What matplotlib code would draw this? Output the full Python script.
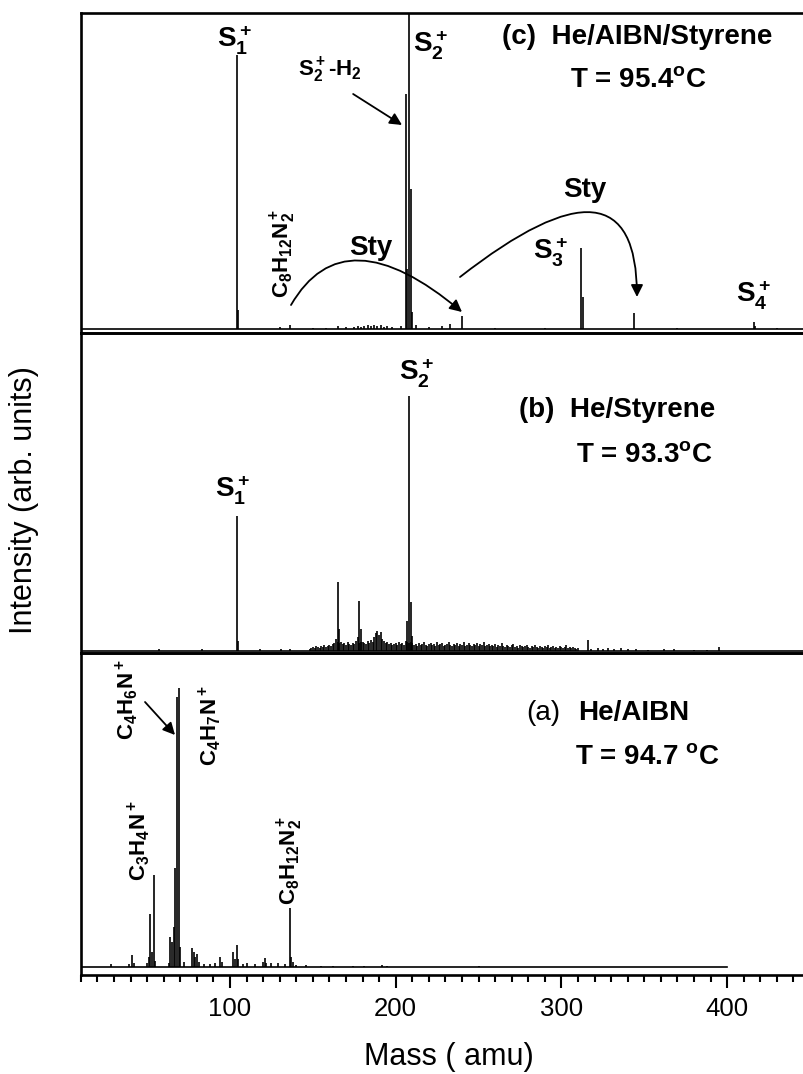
import matplotlib
matplotlib.use('Agg')
import numpy as np
import matplotlib.pyplot as plt
from matplotlib.patches import FancyArrowPatch
from matplotlib.ticker import MultipleLocator

plt.rcParams['font.family'] = ['Liberation Sans', 'DejaVu Sans']
plt.rcParams['mathtext.fontset'] = 'custom'
plt.rcParams['mathtext.rm'] = 'Liberation Sans:bold'
plt.rcParams['mathtext.it'] = 'Liberation Sans:bold'
plt.rcParams['mathtext.bf'] = 'Liberation Sans:bold'
plt.rcParams['mathtext.default'] = 'bf'

# ---- data (mass in amu, intensity in arb. units) ----
# (a) He/AIBN, T = 94.7 C
scan_a = (10, 400)
mass_a = [28, 39, 41, 42, 50, 51, 52, 53, 54, 55, 63, 64, 65, 66, 67, 68, 69, 70, 72, 77,
          78, 79, 80, 81, 84, 88, 91, 94, 95, 102, 103, 104, 105, 108, 110, 115, 120, 121, 122, 125,
          129, 133, 136, 137, 138, 140, 146, 155, 162, 174, 181, 192, 195, 250]
int_a = [3, 3, 12, 4, 4, 10, 53, 15, 92, 6, 4, 30, 25, 40, 99, 270, 279, 20, 5, 19,
         15, 10, 13, 5, 3, 3, 4, 10, 5, 15, 8, 22, 8, 3, 4, 3, 5, 9, 4, 4,
         4, 3, 59, 10, 5, 2, 2, 1.5, 1.5, 1.5, 1.5, 2, 1.5, 1.5]

# (b) He/Styrene, T = 93.3 C
scan_b = (10, 450)
mass_b = [57, 83, 104, 105, 118, 131, 136, 165, 166, 178, 179, 207, 208, 209, 210, 316,
          318, 322, 325, 328, 332, 336, 340, 345, 352, 362, 368, 380, 388, 395]
int_b = [2, 2, 135, 10, 2, 2, 2, 69, 22, 50, 22, 30, 255, 49, 15, 11,
         2, 3, 2, 3, 2, 3, 2, 2, 1.5, 2, 2, 1.5, 1.5, 4]
# dense low-level signal from 148 to 310 amu (one value per amu)
noise_start_b = 148
noise_b = [2, 3, 4, 3, 5, 4, 3, 5, 4, 6,
           4, 5, 6, 5, 7, 8, 12, 9, 8, 9,
           7, 8, 6, 9, 7, 6, 8, 7, 10, 14,
           8, 9, 9, 8, 7, 10, 8, 11, 9, 14,
           18, 20, 16, 19, 12, 10, 8, 9, 7, 8,
           6, 7, 8, 6, 9, 7, 8, 6, 10, 9,
           8, 9, 8, 6, 7, 5, 8, 6, 7, 9,
           6, 5, 7, 8, 6, 7, 5, 9, 6, 7,
           8, 5, 6, 7, 9, 6, 5, 7, 6, 8,
           5, 7, 6, 9, 5, 6, 8, 6, 5, 7,
           6, 8, 5, 7, 6, 9, 5, 6, 7, 5,
           6, 5, 7, 4, 6, 5, 8, 5, 4, 6,
           5, 4, 6, 7, 4, 5, 3, 6, 5, 4,
           5, 6, 4, 3, 5, 4, 6, 4, 3, 5,
           4, 3, 5, 4, 6, 3, 4, 5, 3, 4,
           3, 5, 4, 3, 4, 6, 3, 4, 3, 4,
           3, 2, 3]

# (c) He/AIBN/Styrene, T = 95.4 C
scan_c = (10, 450)
mass_c = [104, 105, 130, 136, 150, 158, 165, 170, 175, 177, 179, 181, 183, 185, 187, 189, 191, 193, 195, 198,
          203, 206, 207, 208, 209, 210, 212, 220, 228, 233, 240, 260, 290, 312, 313, 344, 370, 416, 417, 430]
int_c = [274, 19, 2, 4, 1.5, 1.5, 3, 2, 2, 3, 2, 3, 4, 3, 4, 3, 4, 2, 3, 2,
         3, 235, 60, 340, 140, 17, 4, 2, 3, 5, 13, 1.5, 1.5, 81, 32, 16, 1.5, 7, 3, 1.5]

xlim = (10, 446.4)
W, H = 804, 1074
left = 80.9 / W

fig = plt.figure(figsize=(W / 100, H / 100), dpi=100)
ax_c = fig.add_axes([left, 1 - 333 / H, 1 - left, 320 / H])
ax_b = fig.add_axes([left, 1 - 653 / H, 1 - left, 320 / H])
ax_a = fig.add_axes([left, 1 - 975 / H, 1 - left, 322 / H])

ylims = {ax_c: (-4, 316), ax_b: (-2, 318), ax_a: (-8, 314)}

for ax in (ax_a, ax_b, ax_c):
    ax.set_xlim(*xlim)
    ax.set_ylim(*ylims[ax])
    ax.set_yticks([])
    ax.spines['right'].set_visible(False)
    for s in ('left', 'top', 'bottom'):
        ax.spines[s].set_linewidth(1.9)
    ax.patch.set_alpha(0)

for ax in (ax_b, ax_c):
    ax.tick_params(axis='x', which='both', bottom=False, labelbottom=False)

# spectra
lw = 1.2
ax_a.plot(scan_a, [0, 0], color='k', lw=lw)
ax_a.vlines(mass_a, 0, int_a, color='k', lw=lw)

ax_b.plot(scan_b, [0, 0], color='k', lw=lw)
noise_mass_b = np.arange(noise_start_b, noise_start_b + len(noise_b))
ax_b.vlines(noise_mass_b, 0, noise_b, color='k', lw=lw)
ax_b.vlines(mass_b, 0, int_b, color='k', lw=lw)

ax_c.plot(scan_c, [0, 0], color='k', lw=lw)
ax_c.vlines(mass_c, 0, int_c, color='k', lw=lw)

# x axis
ax_a.xaxis.set_major_locator(MultipleLocator(100))
ax_a.xaxis.set_minor_locator(MultipleLocator(10))
ax_a.tick_params(axis='x', which='major', direction='out', length=9.5, width=1.5,
                 labelsize=18.5, pad=6)
ax_a.tick_params(axis='x', which='minor', direction='out', length=4.7, width=1.5)

fig.text(449 / W, 1 - 1057 / H, 'Mass ( amu)', ha='center', va='center', fontsize=22)
fig.text(24 / W, 1 - 500 / H, 'Intensity (arb. units)', ha='center', va='center',
         rotation=90, fontsize=22)

bold = dict(fontweight='bold', ha='left', va='center')
arrow_kw = dict(arrowstyle='-|>', lw=1.3, color='k', mutation_scale=18, shrinkA=0, shrinkB=0)

# ---- panel (c) ----
ax_c.text(264.1, 292, '(c)  He/AIBN/Styrene', fontsize=20, **bold)
ax_c.text(305.2, 249, 'T = 95.4$^{o}$C', fontsize=20, **bold)
ax_c.text(102.5, 289, r'$S_1^+$', fontsize=20, ha='center', va='center')
ax_c.text(210.4, 284, r'$S_2^+$', fontsize=20, ha='left', va='center')
ax_c.text(293.1, 77, r'$S_3^+$', fontsize=20, ha='center', va='center')
ax_c.text(415.6, 34, r'$S_4^+$', fontsize=20, ha='center', va='center')
ax_c.text(141.1, 259, r'$S_2^+$-H$_2$', fontsize=16, **bold)
ax_c.annotate('', xy=(203.8, 204), xytext=(174.3, 235), arrowprops=arrow_kw)
ax_c.text(132, 76, r'$C_8H_{12}N_2^+$', fontsize=16, rotation=90, ha='center', va='center')
ax_c.text(185.1, 81, 'Sty', fontsize=20, fontweight='bold', ha='center', va='center')
ax_c.text(314.2, 139, 'Sty', fontsize=20, fontweight='bold', ha='center', va='center')
ax_c.add_patch(FancyArrowPatch((136.8, 24), (240, 17),
                               connectionstyle='angle3,angleA=60,angleB=-40', **arrow_kw))
ax_c.add_patch(FancyArrowPatch((238.8, 52), (345.6, 32),
                               connectionstyle='angle3,angleA=38,angleB=90', **arrow_kw))

# ---- panel (b) ----
ax_b.text(274.2, 241, '(b)  He/Styrene', fontsize=20, **bold)
ax_b.text(308.8, 196, 'T = 93.3$^{o}$C', fontsize=20, **bold)
ax_b.text(212.3, 278, r'$S_2^+$', fontsize=20, ha='center', va='center')
ax_b.text(101.2, 161, r'$S_1^+$', fontsize=20, ha='center', va='center')

# ---- panel (a) ----
ax_a.text(278.6, 254, '(a)', fontsize=20, ha='left', va='center')
ax_a.text(310, 254, 'He/AIBN', fontsize=20, **bold)
ax_a.text(308.2, 210, 'T = 94.7 $^{o}$C', fontsize=20, **bold)
ax_a.text(37.8, 267, r'$C_4H_6N^+$', fontsize=16, rotation=90, ha='center', va='center')
ax_a.annotate('', xy=(66.8, 232), xytext=(48.7, 265), arrowprops=arrow_kw)
ax_a.text(87.9, 241, r'$C_4H_7N^+$', fontsize=16, rotation=90, ha='center', va='center')
ax_a.text(44.5, 126, r'$C_3H_4N^+$', fontsize=16, rotation=90, ha='center', va='center')
ax_a.text(136.2, 107, r'$C_8H_{12}N_2^+$', fontsize=16, rotation=90, ha='center', va='center')

fig.savefig('out.png', dpi=100)
